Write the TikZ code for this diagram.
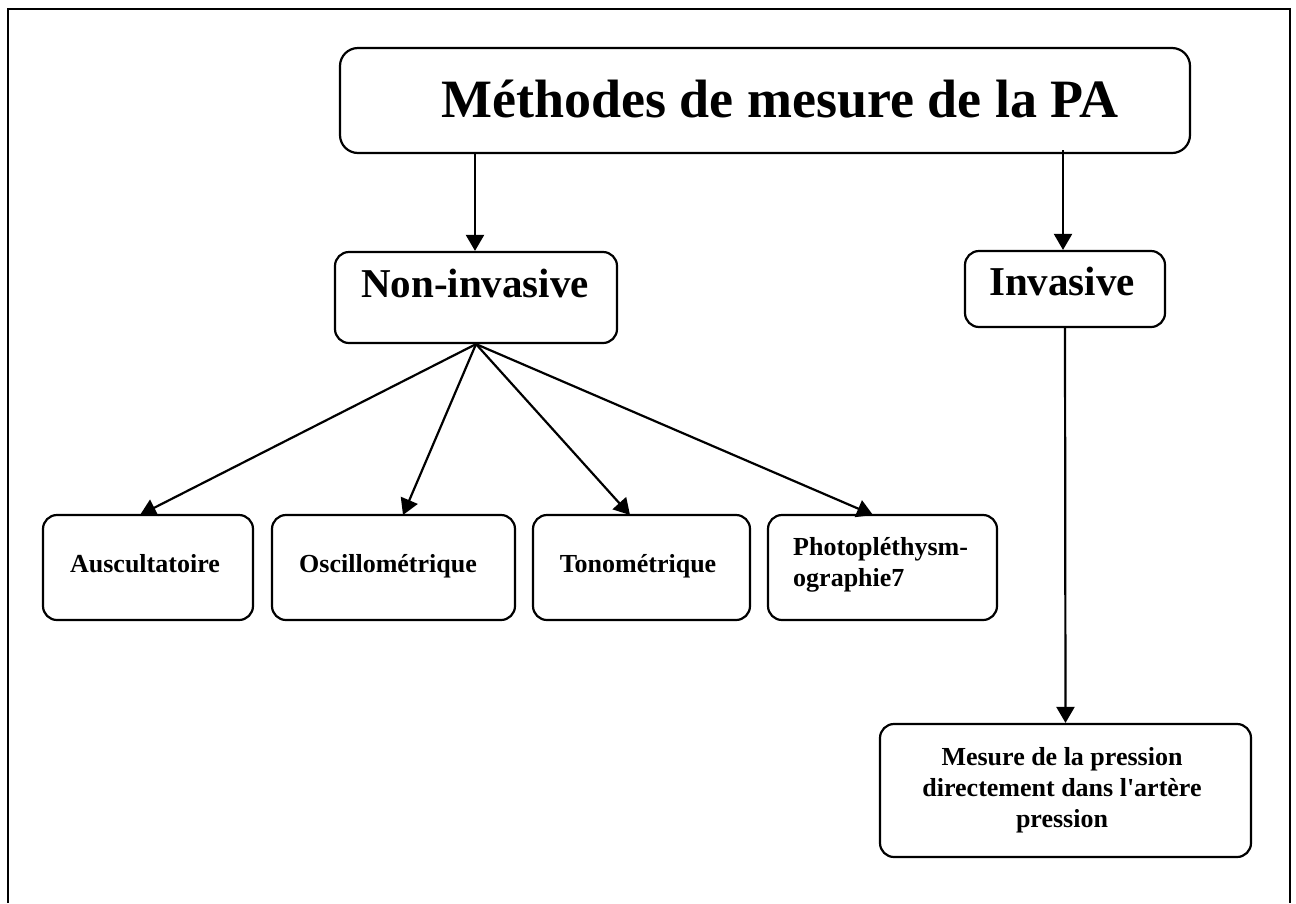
\documentclass[tikz,border=0pt]{standalone}
\usepackage{fontspec}
\setmainfont{Liberation Serif}[Ligatures=TeXOff]
\usetikzlibrary{arrows.meta}
\begin{document}
\begin{tikzpicture}[x=1pt,y=-1pt,
  box/.style={draw,line width=2.2pt,rounded corners=14pt,inner sep=0pt},
  lbl/.style={inner sep=0pt,font=\bfseries},
  arr/.style={line width=2.2pt,-{Triangle[length=16pt,width=18pt]}},
  big/.style={font=\bfseries\fontsize{54}{60}\selectfont},
  mid/.style={font=\bfseries\fontsize{41}{48}\selectfont},
  small/.style={font=\bfseries\fontsize{26}{31}\selectfont}]
\useasboundingbox (0,0) rectangle (1296,903);
% outer frame (open at the bottom)
\draw[line width=2.4pt] (8,903) -- (8,9) -- (1290,9) -- (1290,903);

% boxes
\node[box,rounded corners=18pt,minimum width=850pt,minimum height=105pt] (title) at (765,100.5) {};
\node[box,minimum width=282pt,minimum height=91pt] (ni) at (476,297.5) {};
\node[box,minimum width=200pt,minimum height=76pt] (inv) at (1065,289) {};
\node[box,minimum width=210pt,minimum height=105pt] (aus) at (148,567.5) {};
\node[box,minimum width=243pt,minimum height=105pt] (osc) at (393.5,567.5) {};
\node[box,minimum width=217pt,minimum height=105pt] (ton) at (641.5,567.5) {};
\node[box,minimum width=229pt,minimum height=105pt] (pho) at (882.5,567.5) {};
\node[box,minimum width=371pt,minimum height=133pt] (mes) at (1065.5,790.5) {};

% texts
\node[lbl,big,anchor=base] (ttitle) at (780,117) {Méthodes de mesure de la PA};
\node[lbl,mid,anchor=base] (tni) at (475,297) {Non-invasive};
\node[lbl,mid,anchor=base] (tinv) at (1062,295) {Invasive};
\node[lbl,small,anchor=base] (taus) at (145,572) {Auscultatoire};
\node[lbl,small,anchor=base] (tosc) at (388,572) {Oscillométrique};
\node[lbl,small,anchor=base] (tton) at (638,572) {Tonométrique};
\node[lbl,small,anchor=north west,align=left] (tpho) at (793,537) {Photopléthysm-\\ographie7};
\node[lbl,small,anchor=north,align=center] (tmes) at (1062,747) {Mesure de la pression\\directement dans l'artère\\pression};

% connectors
\coordinate (tl) at (475,153);
\coordinate (tr) at (1063,150);
\draw[arr] (tl) -- (tl |- ni.north);
\draw[arr] (tr) -- (tr |- inv.north);
\coordinate (hub) at (ni.south);
\coordinate (ea) at (140,515);
\coordinate (eo) at (403,515);
\coordinate (et) at (630,515);
\coordinate (ep) at (873,515);
\draw[arr] (hub) -- (ea);
\draw[arr] (hub) -- (eo);
\draw[arr] (hub) -- (et);
\draw[arr] (hub) -- (ep);
\draw[arr] (inv.south) -- (mes.north);
\end{tikzpicture}
\end{document}
